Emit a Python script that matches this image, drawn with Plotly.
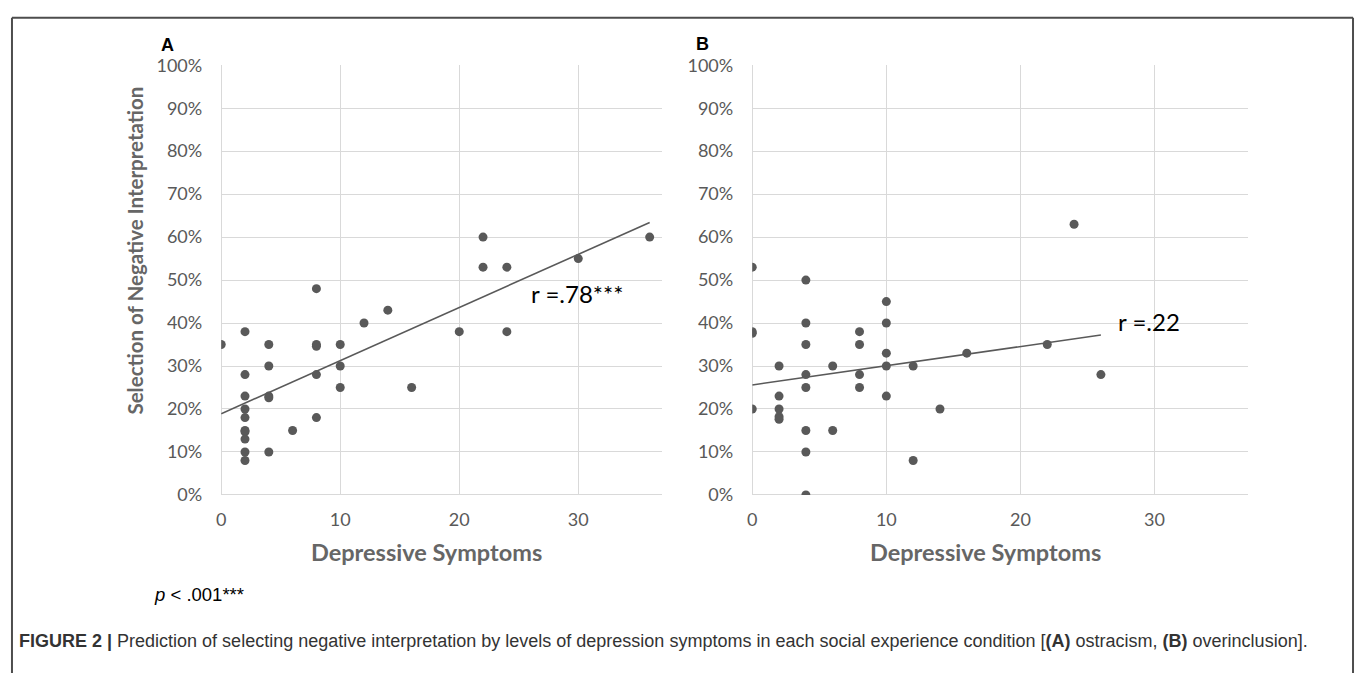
import plotly.graph_objects as go

# ---------------- data ----------------
# Panel A (ostracism): depressive symptoms vs selection of negative interpretation
a_x = [0, 2, 2, 2, 2, 2, 2, 2, 2, 2, 2,
       4, 4, 4, 4, 4, 6, 8, 8, 8, 8, 8,
       10, 10, 10, 12, 14, 16, 20, 22, 22, 24, 24, 30, 36]
a_y = [0.35, 0.38, 0.28, 0.23, 0.20, 0.18, 0.15, 0.147, 0.13, 0.10, 0.08,
       0.35, 0.30, 0.23, 0.226, 0.10, 0.15, 0.48, 0.35, 0.346, 0.28, 0.18,
       0.35, 0.30, 0.25, 0.40, 0.43, 0.25, 0.38, 0.60, 0.53, 0.53, 0.38, 0.55, 0.60]
a_trend_x = [0, 36]
a_trend_y = [0.189, 0.634]

# Panel B (overinclusion)
b_x = [0, 0, 0, 0, 2, 2, 2, 2, 2,
       4, 4, 4, 4, 4, 4, 4, 4, 6, 6,
       8, 8, 8, 8, 10, 10, 10, 10, 10,
       12, 12, 14, 16, 22, 24, 26]
b_y = [0.53, 0.38, 0.376, 0.20, 0.30, 0.23, 0.20, 0.182, 0.176,
       0.50, 0.40, 0.35, 0.28, 0.25, 0.15, 0.10, 0.0, 0.30, 0.15,
       0.38, 0.35, 0.28, 0.25, 0.45, 0.40, 0.33, 0.30, 0.23,
       0.30, 0.08, 0.20, 0.33, 0.35, 0.63, 0.28]
b_trend_x = [0, 26]
b_trend_y = [0.256, 0.372]

r_labels = ["r =.78***", "r =.22"]
r_pos_x = [29.9, 29.6]
r_pos_y = [0.468, 0.403]

x_title = "Depressive Symptoms"
y_title = "Selection of Negative Interpretation"
panel_labels = ["A", "B"]
p_note = "<i>p</i> < .001***"
caption = ("<b>FIGURE 2 |</b> Prediction of selecting negative interpretation by levels of "
           "depression symptoms in each social experience condition [<b>(A)</b> ostracism, "
           "<b>(B)</b> overinclusion].")

# ---------------- layout helpers ----------------
W, H = 1357, 683


def px(x):
    return x / W


def py(y):
    return 1 - y / H


MARK = "#595959"
GRID = "#d9d9d9"
TICK = "#595959"
TFONT = "Lato"

fig = go.Figure()
fig.add_trace(go.Scatter(x=a_x, y=a_y, mode="markers", xaxis="x", yaxis="y",
                         marker=dict(color=MARK, size=9), showlegend=False))
fig.add_trace(go.Scatter(x=a_trend_x, y=a_trend_y, mode="lines", xaxis="x", yaxis="y",
                         line=dict(color=MARK, width=1.6), showlegend=False))
fig.add_trace(go.Scatter(x=b_x, y=b_y, mode="markers", xaxis="x2", yaxis="y2",
                         marker=dict(color=MARK, size=9), showlegend=False))
fig.add_trace(go.Scatter(x=b_trend_x, y=b_trend_y, mode="lines", xaxis="x2", yaxis="y2",
                         line=dict(color=MARK, width=1.6), showlegend=False))

ydom = [py(499), py(55)]
common_x = dict(range=[0, 37], dtick=10, tick0=0, showgrid=True, gridcolor=GRID, gridwidth=1,
                zeroline=True, zerolinecolor=GRID, zerolinewidth=1, showline=False,
                ticks="", ticklabelstandoff=12,
                tickfont=dict(family=TFONT, size=18, color=TICK))
common_y = dict(range=[0, 1], dtick=0.1, tick0=0, tickformat=".0%", showgrid=True,
                gridcolor=GRID, gridwidth=1, zeroline=True, zerolinecolor=GRID,
                zerolinewidth=1, showline=False, ticks="", ticklabelstandoff=18,
                tickfont=dict(family=TFONT, size=18, color=TICK))

fig.update_layout(
    width=W, height=H,
    margin=dict(l=0, r=0, t=0, b=0),
    paper_bgcolor="white", plot_bgcolor="white",
    xaxis=dict(domain=[px(217), px(659)], anchor="y", **common_x),
    yaxis=dict(domain=ydom, anchor="x", **common_y),
    xaxis2=dict(domain=[px(750), px(1248)], anchor="y2", **common_x),
    yaxis2=dict(domain=ydom, anchor="x2", **common_y),
)


def note(text, x, y, size, color, family, xanchor="center", angle=0):
    return dict(text=text, x=px(x), y=py(y), xref="paper", yref="paper",
                xanchor=xanchor, yanchor="middle", textangle=angle, showarrow=False,
                font=dict(family=family, size=size, color=color))


ann = []
ann.append(note("<b>%s</b>" % panel_labels[0], 163, 34, 18, "black", "Liberation Sans"))
ann.append(note("<b>%s</b>" % panel_labels[1], 700, 33, 18, "black", "Liberation Sans"))
ann.append(note("<b>%s</b>" % y_title, 131, 247, 20.5, "#666666", TFONT, angle=-90))
ann.append(note("<b>%s</b>" % x_title, 423, 558, 23.5, "#666666", TFONT))
ann.append(note("<b>%s</b>" % x_title, 984, 558, 23.5, "#666666", TFONT))
ann.append(note(p_note, 148, 602, 18.5, "black", "Liberation Sans", xanchor="left"))
ann.append(note(caption, 12, 650, 18, "#333333", "Liberation Sans", xanchor="left"))
# r labels in data coordinates
ann.append(dict(text=r_labels[0], x=r_pos_x[0], y=r_pos_y[0], xref="x", yref="y",
                xanchor="center", yanchor="middle", showarrow=False,
                font=dict(family=TFONT, size=24, color="black")))
ann.append(dict(text=r_labels[1], x=r_pos_x[1], y=r_pos_y[1], xref="x2", yref="y2",
                xanchor="center", yanchor="middle", showarrow=False,
                font=dict(family=TFONT, size=24, color="black")))
fig.update_layout(annotations=ann)

# frame
FRAME = dict(color="#4d4d4d", width=2)
fig.add_shape(type="line", xref="paper", yref="paper", x0=px(7), x1=px(1353), y0=py(6), y1=py(6),
              line=FRAME)
fig.add_shape(type="line", xref="paper", yref="paper", x0=px(7), x1=px(7), y0=py(6), y1=0,
              line=FRAME)
fig.add_shape(type="line", xref="paper", yref="paper", x0=px(1353), x1=px(1353), y0=py(6), y1=0,
              line=FRAME)

fig.write_html("out.html", post_script="document.body.style.margin='0px';",
               config={"displayModeBar": False})
